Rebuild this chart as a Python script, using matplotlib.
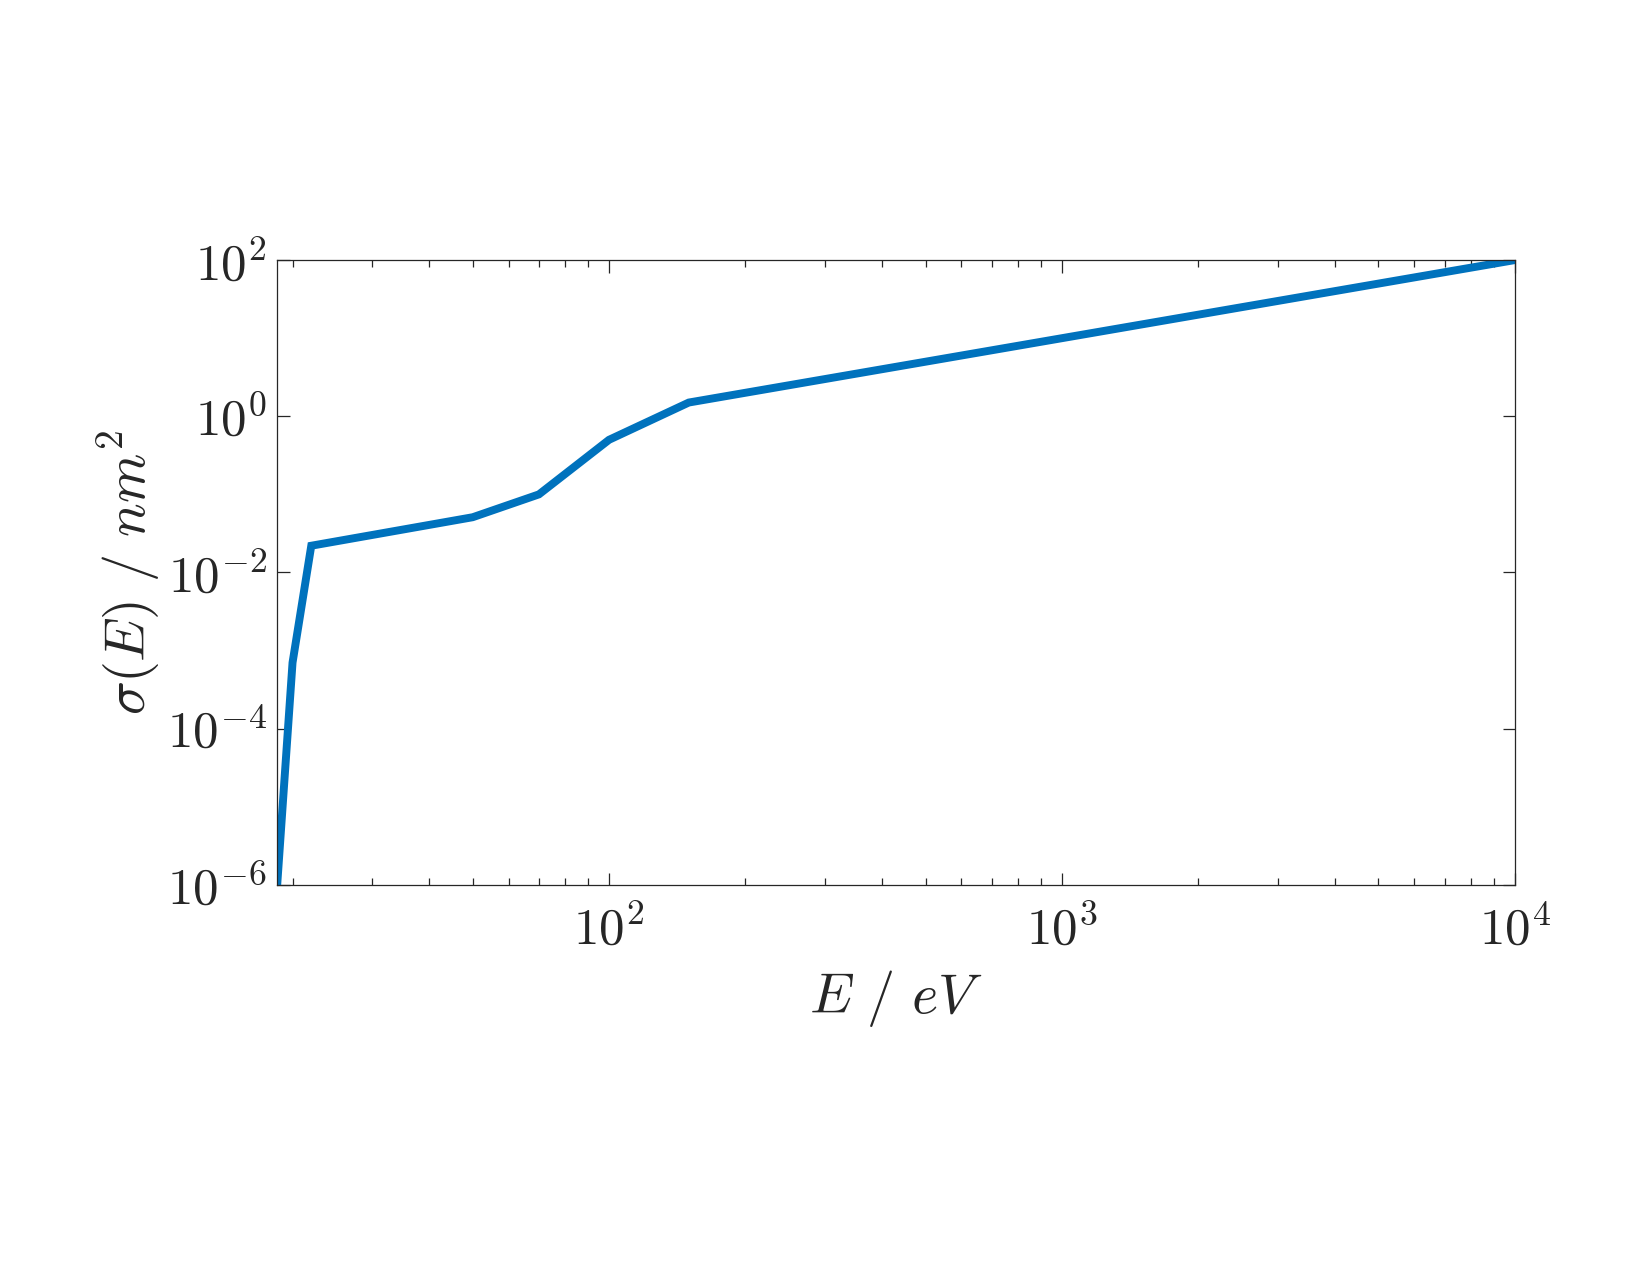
import matplotlib
matplotlib.use('Agg')
import matplotlib.pyplot as plt
from matplotlib.ticker import LogLocator, NullFormatter, FixedLocator
import numpy as np

matplotlib.rcParams.update({
    'mathtext.fontset': 'cm',
    'font.family': 'serif',
    'font.serif': ['DejaVu Serif'],
    'axes.linewidth': 0.6,
    'axes.edgecolor': '#262626',
    'xtick.color': '#262626',
    'ytick.color': '#262626',
})

# energy (eV) and cross section (nm^2)
energy = [18.5, 20, 22, 50, 70, 100, 150, 10000]
sigma = [1e-6, 7e-4, 0.022, 0.051, 0.10, 0.50, 1.5, 100]

xtick_exp = [2, 3, 4]
ytick_exp = [-6, -4, -2, 0, 2]

fig = plt.figure(figsize=(11, 8.5), dpi=150)
ax = fig.add_axes([0.168, 0.306, 0.750, 0.490])

ax.plot(energy, sigma, color='#0072BD', linewidth=3.8, solid_joinstyle='miter')

ax.set_xscale('log')
ax.set_yscale('log')
ax.set_xlim(energy[0], 1e4)
ax.set_ylim(1e-6, 1e2)

ax.set_xticks([10.0 ** e for e in xtick_exp])
ax.set_xticklabels([r'$10^{%d}$' % e for e in xtick_exp])
ax.xaxis.set_minor_locator(LogLocator(base=10, subs=np.arange(2, 10)))
ax.xaxis.set_minor_formatter(NullFormatter())

ax.set_yticks([10.0 ** e for e in ytick_exp])
ax.set_yticklabels([r'$10^{%d}$' % e for e in ytick_exp])
ax.yaxis.set_minor_locator(FixedLocator([]))

ax.tick_params(which='both', direction='in', top=True, right=True,
               labelsize=24.5, width=0.6)
ax.tick_params(which='major', length=6)
ax.tick_params(which='minor', length=3.3)
ax.tick_params(axis='x', pad=10)
ax.tick_params(axis='y', pad=5)

ax.set_xlabel(r'$E\ /\ eV$', fontsize=27, color='#262626', labelpad=6)
ax.set_ylabel(r'$\sigma(E)\ /\ nm^2$', fontsize=27, color='#262626', labelpad=2)

fig.savefig('out.png', dpi=150)
plt.close()
